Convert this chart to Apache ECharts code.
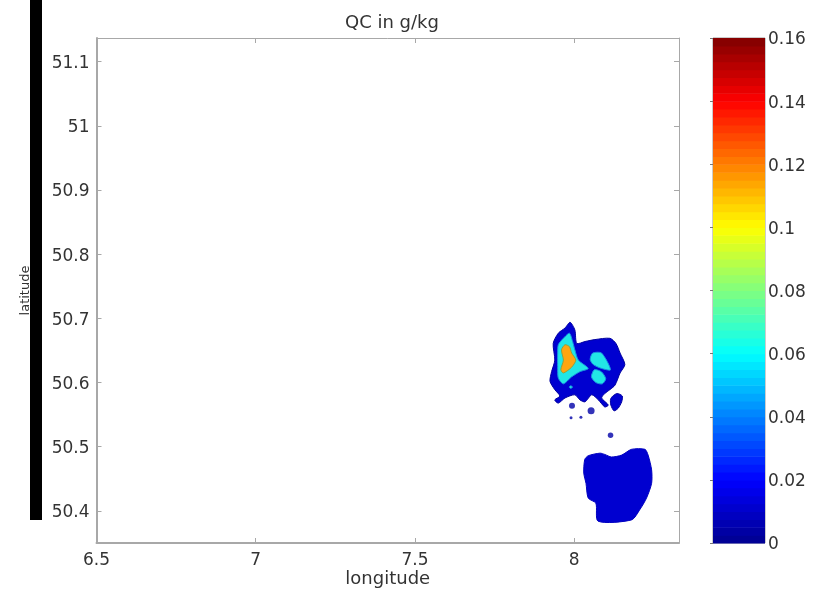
<!DOCTYPE html>
<html><head><meta charset="utf-8">
<style>html,body{margin:0;padding:0;background:#fff}#c{width:824px;height:590px}</style>
<script src="https://cdn.jsdelivr.net/npm/echarts@6/dist/echarts.min.js"></script>
</head><body><div id="c"></div>
<script>
const xTicks = [6.5, 7, 7.5, 8];
const yTicks = [50.4, 50.5, 50.6, 50.7, 50.8, 50.9, 51, 51.1];
const xRange = [6.5, 8.329];
const yRange = [50.35, 51.137];
const cbarRange = [0, 0.16];
const cbarInterval = 0.02;
const jetStops = [[0,0,0,143],[0.125,0,0,255],[0.375,0,255,255],[0.625,255,255,0],[0.875,255,0,0],[1,128,0,0]];
const cbarSteps = 64;

const lowCloud = [[7.987,50.694],[8.002,50.682],[8.008,50.661],[8.034,50.664],[8.065,50.667],[8.112,50.669],[8.131,50.661],[8.144,50.646],[8.159,50.628],[8.144,50.615],[8.128,50.596],[8.112,50.589],[8.096,50.583],[8.086,50.576],[8.107,50.565],[8.096,50.562],[8.076,50.573],[8.055,50.581],[8.034,50.570],[8.018,50.573],[8.002,50.581],[7.971,50.576],[7.950,50.568],[7.939,50.573],[7.955,50.579],[7.939,50.589],[7.924,50.602],[7.929,50.617],[7.939,50.635],[7.934,50.661],[7.950,50.677],[7.971,50.685]];
const lowBlob = [[8.121,50.579],[8.135,50.583],[8.151,50.579],[8.149,50.570],[8.138,50.560],[8.125,50.556],[8.115,50.565],[8.114,50.574]];
const lowSouth = [[8.033,50.480],[8.044,50.486],[8.081,50.490],[8.096,50.488],[8.117,50.484],[8.149,50.487],[8.180,50.496],[8.222,50.496],[8.232,50.487],[8.243,50.464],[8.243,50.443],[8.227,50.420],[8.206,50.402],[8.180,50.386],[8.075,50.384],[8.068,50.412],[8.044,50.420],[8.037,50.443],[8.030,50.459]];
const midMain = [[7.985,50.677],[7.995,50.664],[8.002,50.651],[8.013,50.635],[8.044,50.622],[8.018,50.617],[7.992,50.609],[7.966,50.598],[7.950,50.607],[7.948,50.625],[7.948,50.646],[7.950,50.659],[7.966,50.669]];
const midRight = [[8.058,50.646],[8.086,50.646],[8.114,50.620],[8.086,50.622],[8.060,50.628],[8.050,50.636]];
const midLower = [[8.063,50.620],[8.085,50.617],[8.099,50.606],[8.088,50.598],[8.068,50.600],[8.054,50.609]];
const midSpeck = [[7.984,50.593],[7.989,50.595],[7.995,50.593],[7.989,50.591]];
const highCore = [[7.971,50.659],[7.985,50.656],[7.992,50.646],[8.005,50.635],[7.992,50.624],[7.966,50.615],[7.958,50.620],[7.966,50.635],[7.960,50.651]];
const dots = [[7.993,50.564,6],[8.053,50.556,7],[7.990,50.545,3],[8.021,50.546,3],[8.114,50.518,5.5]];

const contours = [
  {pts: lowCloud, fill:'#0000d0', edge:'#0000a0'},
  {pts: lowBlob, fill:'#0000d0', edge:'#0000a0'},
  {pts: lowSouth, fill:'#0000d0', edge:'#0000c0'},
  {pts: midMain, fill:'#22e6e6', edge:'#1a90e0'},
  {pts: midRight, fill:'#22e6e6', edge:'#1a90e0'},
  {pts: midLower, fill:'#22e6e6', edge:'#1a90e0'},
  {pts: midSpeck, fill:'#22e6e6', edge:'#1a90e0'},
  {pts: highCore, fill:'#ffa510', edge:'#90a040'}
];
const textFont = 'DejaVu Sans';
const ink = '#333333';
const gray = '#a8a8a8';

function jet(t){
  for(let i=1;i<jetStops.length;i++){
    if(t<=jetStops[i][0]){
      const a=jetStops[i-1],b=jetStops[i],f=(t-a[0])/(b[0]-a[0]);
      return 'rgb('+[1,2,3].map(k=>Math.round(a[k]+(b[k]-a[k])*f)).join(',')+')';
    }
  }
  return 'rgb(128,0,0)';
}
const cbarBands=[];
for(let i=0;i<cbarSteps;i++){
  cbarBands.push([i/cbarSteps*cbarRange[1],(i+1)/cbarSteps*cbarRange[1],(i+0.5)/cbarSteps]);
}
const side=(pos,idx,range,ticks)=>({type:'value',gridIndex:0,position:pos,min:range[0],max:range[1],
  splitLine:{show:false},axisLabel:{show:false},
  axisLine:{show:true,onZero:false,lineStyle:{color:gray,width:1}},
  axisTick:{show:true,inside:true,length:5,customValues:ticks,lineStyle:{color:gray}}});
const main=(pos,range,ticks,name,gap)=>({type:'value',gridIndex:0,position:pos,min:range[0],max:range[1],
  name:name,nameLocation:'middle',nameGap:gap,nameMoveOverlap:false,
  nameTextStyle:{fontFamily:textFont,fontSize:pos==='left'?13:18,color:ink},
  splitLine:{show:false},
  axisLine:{show:true,onZero:false,lineStyle:{color:gray,width:2}},
  axisTick:{show:true,inside:true,length:5,customValues:ticks,lineStyle:{color:gray}},
  axisLabel:Object.assign({show:true,customValues:ticks,margin:pos==='left'?7:9,fontFamily:textFont,fontSize:17,color:ink,hideOverlap:false},
    pos==='left'?{verticalAlign:'top',lineHeight:4}:{})});

const chart=echarts.init(document.getElementById('c'),null,{renderer:'canvas'});
chart.setOption({
  animation:false,
  backgroundColor:'#ffffff',
  title:{text:'QC in g/kg',left:387,top:9,textAlign:'center',textStyle:{fontFamily:textFont,fontSize:18,fontWeight:'normal',color:ink}},
  grid:[
    {left:96.5,right:145,top:38,bottom:47,outerBoundsMode:'none'},
    {left:713,right:59,top:38,bottom:47,outerBoundsMode:'none',show:true,borderColor:'#999',borderWidth:1,backgroundColor:'transparent'}
  ],
  xAxis:[
    main('bottom',xRange,xTicks,'longitude',27),
    side('top',1,xRange,xTicks),
    {type:'value',gridIndex:1,min:0,max:1,show:false}
  ],
  yAxis:[
    main('left',yRange,yTicks,'latitude',64),
    side('right',1,yRange,yTicks),
    {type:'value',gridIndex:1,min:cbarRange[0],max:cbarRange[1],interval:cbarInterval,position:'right',
     splitLine:{show:false},axisLine:{show:false},
     axisTick:{show:true,inside:true,length:3,lineStyle:{color:'#777'}},
     axisLabel:{margin:3,verticalAlign:'top',lineHeight:4,fontFamily:textFont,fontSize:17,color:ink,formatter:v=>String(+v.toFixed(2))}}
  ],
  series:[
    {type:'custom',xAxisIndex:0,yAxisIndex:0,coordinateSystem:'cartesian2d',z:2,silent:true,clip:true,
     data:contours.map((c,i)=>[c.pts[0][0],c.pts[0][1],i]),
     encode:{x:0,y:1},
     renderItem:(p,api)=>{
       const c=contours[api.value(2)];
       return {type:'polygon',shape:{points:c.pts.map(q=>api.coord(q)),smooth:0.25},
         style:{fill:c.fill,stroke:c.edge,lineWidth:1}};
     }},
    {type:'scatter',xAxisIndex:0,yAxisIndex:0,z:3,silent:true,data:dots,
     symbolSize:d=>d[2],itemStyle:{color:'#0000a8'}},
    {type:'custom',xAxisIndex:2,yAxisIndex:2,coordinateSystem:'cartesian2d',z:2,silent:true,
     data:cbarBands,encode:{y:[0,1]},
     renderItem:(p,api)=>{
       const lo=api.coord([0,api.value(0)]),hi=api.coord([1,api.value(1)]);
       return {type:'rect',shape:{x:lo[0],y:hi[1],width:hi[0]-lo[0],height:lo[1]-hi[1]+0.6},
         style:{fill:jet(api.value(2))}};
     }}
  ],
  graphic:[{type:'rect',z:100,zlevel:1,silent:true,shape:{x:30,y:0,width:12,height:520},style:{fill:'#000'}}]
});
</script></body></html>
